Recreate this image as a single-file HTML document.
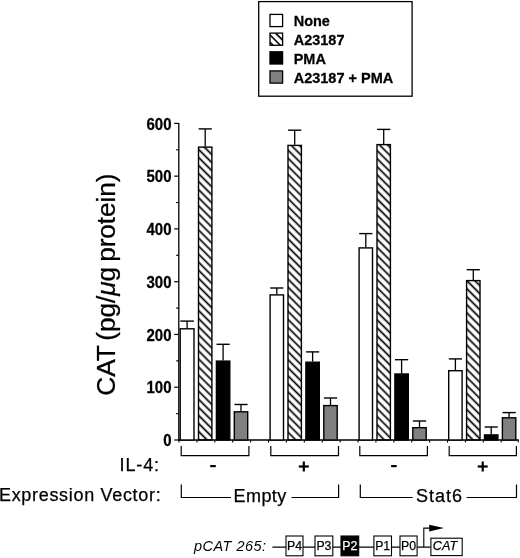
<!DOCTYPE html><html><head><meta charset="utf-8"><style>
html,body{margin:0;padding:0;background:#fff;}
body{width:520px;height:558px;overflow:hidden;}
svg{display:block;font-family:"Liberation Sans",sans-serif;will-change:transform;} text{stroke:#000;stroke-width:0.25px;}
</style></head><body>
<svg width="520" height="558" viewBox="0 0 520 558">
<defs><pattern id="hatch" patternUnits="userSpaceOnUse" width="5.699" height="5.699" patternTransform="rotate(45)"><rect x="0" y="4.277" width="5.699" height="1.7" fill="#000"/><rect x="0" y="-1.422" width="5.699" height="1.7" fill="#000"/></pattern><pattern id="hatchL" patternUnits="userSpaceOnUse" width="5.2" height="5.2" patternTransform="translate(272.3,14) rotate(45)"><rect x="0" y="0" width="5.2" height="1.6" fill="#000"/></pattern></defs>
<rect width="520" height="558" fill="#fff"/>
<rect x="258.7" y="1.6" width="153.4" height="94.6" fill="none" stroke="#000" stroke-width="1.3"/>
<rect x="270.0" y="14.40" width="12.6" height="12.2" fill="#fff" stroke="#000" stroke-width="1.3"/>
<text transform="translate(293.7,25.9) scale(1,1.05)" font-size="14.5" font-weight="bold">None</text>
<rect x="270.0" y="33.10" width="12.6" height="12.2" fill="url(#hatchL)" stroke="#000" stroke-width="1.3"/>
<text transform="translate(293.7,44.6) scale(1,1.05)" font-size="14.5" font-weight="bold">A23187</text>
<rect x="270.0" y="51.80" width="12.6" height="12.2" fill="#000" stroke="#000" stroke-width="1.3"/>
<text transform="translate(293.7,64.1) scale(1,1.05)" font-size="14.5" font-weight="bold">PMA</text>
<rect x="270.0" y="70.90" width="12.6" height="12.2" fill="#808080" stroke="#000" stroke-width="1.3"/>
<text transform="translate(293.7,82.8) scale(1,1.05)" font-size="14.5" font-weight="bold">A23187 + PMA</text>
<line x1="178.8" y1="122.88" x2="178.8" y2="440.60" stroke="#000" stroke-width="1.3"/>
<line x1="174.20" y1="440.00" x2="178.8" y2="440.00" stroke="#000" stroke-width="1.2"/>
<text transform="translate(171.5,446.20) scale(1,1.05)" font-size="15" font-weight="bold" text-anchor="end">0</text>
<line x1="176.20" y1="413.62" x2="178.8" y2="413.62" stroke="#000" stroke-width="1.2"/>
<line x1="174.20" y1="387.23" x2="178.8" y2="387.23" stroke="#000" stroke-width="1.2"/>
<text transform="translate(171.5,393.43) scale(1,1.05)" font-size="15" font-weight="bold" text-anchor="end">100</text>
<line x1="176.20" y1="360.85" x2="178.8" y2="360.85" stroke="#000" stroke-width="1.2"/>
<line x1="174.20" y1="334.46" x2="178.8" y2="334.46" stroke="#000" stroke-width="1.2"/>
<text transform="translate(171.5,340.66) scale(1,1.05)" font-size="15" font-weight="bold" text-anchor="end">200</text>
<line x1="176.20" y1="308.08" x2="178.8" y2="308.08" stroke="#000" stroke-width="1.2"/>
<line x1="174.20" y1="281.69" x2="178.8" y2="281.69" stroke="#000" stroke-width="1.2"/>
<text transform="translate(171.5,287.89) scale(1,1.05)" font-size="15" font-weight="bold" text-anchor="end">300</text>
<line x1="176.20" y1="255.31" x2="178.8" y2="255.31" stroke="#000" stroke-width="1.2"/>
<line x1="174.20" y1="228.92" x2="178.8" y2="228.92" stroke="#000" stroke-width="1.2"/>
<text transform="translate(171.5,235.12) scale(1,1.05)" font-size="15" font-weight="bold" text-anchor="end">400</text>
<line x1="176.20" y1="202.54" x2="178.8" y2="202.54" stroke="#000" stroke-width="1.2"/>
<line x1="174.20" y1="176.15" x2="178.8" y2="176.15" stroke="#000" stroke-width="1.2"/>
<text transform="translate(171.5,182.35) scale(1,1.05)" font-size="15" font-weight="bold" text-anchor="end">500</text>
<line x1="176.20" y1="149.77" x2="178.8" y2="149.77" stroke="#000" stroke-width="1.2"/>
<line x1="174.20" y1="123.38" x2="178.8" y2="123.38" stroke="#000" stroke-width="1.2"/>
<text transform="translate(171.5,129.58) scale(1,1.05)" font-size="15" font-weight="bold" text-anchor="end">600</text>
<line x1="178.2" y1="440.00" x2="518.8" y2="440.00" stroke="#000" stroke-width="1.3"/>
<line x1="179.00" y1="440.00" x2="179.00" y2="442.60" stroke="#000" stroke-width="1.1"/>
<line x1="196.90" y1="440.00" x2="196.90" y2="442.60" stroke="#000" stroke-width="1.1"/>
<line x1="214.80" y1="440.00" x2="214.80" y2="442.60" stroke="#000" stroke-width="1.1"/>
<line x1="232.70" y1="440.00" x2="232.70" y2="442.60" stroke="#000" stroke-width="1.1"/>
<line x1="250.60" y1="440.00" x2="250.60" y2="442.60" stroke="#000" stroke-width="1.1"/>
<line x1="268.50" y1="440.00" x2="268.50" y2="442.60" stroke="#000" stroke-width="1.1"/>
<line x1="286.40" y1="440.00" x2="286.40" y2="442.60" stroke="#000" stroke-width="1.1"/>
<line x1="304.30" y1="440.00" x2="304.30" y2="442.60" stroke="#000" stroke-width="1.1"/>
<line x1="322.20" y1="440.00" x2="322.20" y2="442.60" stroke="#000" stroke-width="1.1"/>
<line x1="340.10" y1="440.00" x2="340.10" y2="442.60" stroke="#000" stroke-width="1.1"/>
<line x1="358.00" y1="440.00" x2="358.00" y2="442.60" stroke="#000" stroke-width="1.1"/>
<line x1="375.90" y1="440.00" x2="375.90" y2="442.60" stroke="#000" stroke-width="1.1"/>
<line x1="393.80" y1="440.00" x2="393.80" y2="442.60" stroke="#000" stroke-width="1.1"/>
<line x1="411.70" y1="440.00" x2="411.70" y2="442.60" stroke="#000" stroke-width="1.1"/>
<line x1="429.60" y1="440.00" x2="429.60" y2="442.60" stroke="#000" stroke-width="1.1"/>
<line x1="447.50" y1="440.00" x2="447.50" y2="442.60" stroke="#000" stroke-width="1.1"/>
<line x1="465.40" y1="440.00" x2="465.40" y2="442.60" stroke="#000" stroke-width="1.1"/>
<line x1="483.30" y1="440.00" x2="483.30" y2="442.60" stroke="#000" stroke-width="1.1"/>
<line x1="501.20" y1="440.00" x2="501.20" y2="442.60" stroke="#000" stroke-width="1.1"/>
<line x1="518.20" y1="440.00" x2="518.20" y2="442.60" stroke="#000" stroke-width="1.1"/>
<line x1="187.10" y1="321.10" x2="187.10" y2="328.20" stroke="#000" stroke-width="1.3"/>
<line x1="180.30" y1="321.10" x2="193.90" y2="321.10" stroke="#000" stroke-width="1.4"/>
<rect x="180.20" y="328.80" width="13.80" height="111.20" fill="#fff" stroke="#000" stroke-width="1.4"/>
<line x1="205.20" y1="128.90" x2="205.20" y2="146.50" stroke="#000" stroke-width="1.3"/>
<line x1="198.60" y1="128.90" x2="211.80" y2="128.90" stroke="#000" stroke-width="1.4"/>
<rect x="198.50" y="147.10" width="13.40" height="292.90" fill="url(#hatch)" stroke="#000" stroke-width="1.4"/>
<line x1="223.10" y1="344.30" x2="223.10" y2="360.50" stroke="#000" stroke-width="1.3"/>
<line x1="216.50" y1="344.30" x2="229.70" y2="344.30" stroke="#000" stroke-width="1.4"/>
<rect x="216.40" y="361.10" width="13.40" height="78.90" fill="#000" stroke="#000" stroke-width="1.4"/>
<line x1="241.00" y1="404.50" x2="241.00" y2="411.20" stroke="#000" stroke-width="1.3"/>
<line x1="234.40" y1="404.50" x2="247.60" y2="404.50" stroke="#000" stroke-width="1.4"/>
<rect x="234.30" y="411.80" width="13.40" height="28.20" fill="#808080" stroke="#000" stroke-width="1.4"/>
<line x1="276.80" y1="288.00" x2="276.80" y2="294.30" stroke="#000" stroke-width="1.3"/>
<line x1="270.20" y1="288.00" x2="283.40" y2="288.00" stroke="#000" stroke-width="1.4"/>
<rect x="270.10" y="294.90" width="13.40" height="145.10" fill="#fff" stroke="#000" stroke-width="1.4"/>
<line x1="294.70" y1="130.20" x2="294.70" y2="144.80" stroke="#000" stroke-width="1.3"/>
<line x1="288.10" y1="130.20" x2="301.30" y2="130.20" stroke="#000" stroke-width="1.4"/>
<rect x="288.00" y="145.40" width="13.40" height="294.60" fill="url(#hatch)" stroke="#000" stroke-width="1.4"/>
<line x1="312.60" y1="351.90" x2="312.60" y2="361.60" stroke="#000" stroke-width="1.3"/>
<line x1="306.00" y1="351.90" x2="319.20" y2="351.90" stroke="#000" stroke-width="1.4"/>
<rect x="305.90" y="362.20" width="13.40" height="77.80" fill="#000" stroke="#000" stroke-width="1.4"/>
<line x1="330.50" y1="398.00" x2="330.50" y2="405.00" stroke="#000" stroke-width="1.3"/>
<line x1="323.90" y1="398.00" x2="337.10" y2="398.00" stroke="#000" stroke-width="1.4"/>
<rect x="323.80" y="405.60" width="13.40" height="34.40" fill="#808080" stroke="#000" stroke-width="1.4"/>
<line x1="365.80" y1="233.60" x2="365.80" y2="247.30" stroke="#000" stroke-width="1.3"/>
<line x1="359.20" y1="233.60" x2="372.40" y2="233.60" stroke="#000" stroke-width="1.4"/>
<rect x="359.10" y="247.90" width="13.40" height="192.10" fill="#fff" stroke="#000" stroke-width="1.4"/>
<line x1="383.70" y1="129.40" x2="383.70" y2="144.00" stroke="#000" stroke-width="1.3"/>
<line x1="377.10" y1="129.40" x2="390.30" y2="129.40" stroke="#000" stroke-width="1.4"/>
<rect x="377.00" y="144.60" width="13.40" height="295.40" fill="url(#hatch)" stroke="#000" stroke-width="1.4"/>
<line x1="401.60" y1="359.70" x2="401.60" y2="373.40" stroke="#000" stroke-width="1.3"/>
<line x1="395.00" y1="359.70" x2="408.20" y2="359.70" stroke="#000" stroke-width="1.4"/>
<rect x="394.90" y="374.00" width="13.40" height="66.00" fill="#000" stroke="#000" stroke-width="1.4"/>
<line x1="419.50" y1="421.00" x2="419.50" y2="427.10" stroke="#000" stroke-width="1.3"/>
<line x1="412.90" y1="421.00" x2="426.10" y2="421.00" stroke="#000" stroke-width="1.4"/>
<rect x="412.80" y="427.70" width="13.40" height="12.30" fill="#808080" stroke="#000" stroke-width="1.4"/>
<line x1="455.40" y1="358.90" x2="455.40" y2="370.10" stroke="#000" stroke-width="1.3"/>
<line x1="448.80" y1="358.90" x2="462.00" y2="358.90" stroke="#000" stroke-width="1.4"/>
<rect x="448.70" y="370.70" width="13.40" height="69.30" fill="#fff" stroke="#000" stroke-width="1.4"/>
<line x1="473.30" y1="269.70" x2="473.30" y2="280.00" stroke="#000" stroke-width="1.3"/>
<line x1="466.70" y1="269.70" x2="479.90" y2="269.70" stroke="#000" stroke-width="1.4"/>
<rect x="466.60" y="280.60" width="13.40" height="159.40" fill="url(#hatch)" stroke="#000" stroke-width="1.4"/>
<line x1="491.20" y1="427.00" x2="491.20" y2="434.30" stroke="#000" stroke-width="1.3"/>
<line x1="484.60" y1="427.00" x2="497.80" y2="427.00" stroke="#000" stroke-width="1.4"/>
<rect x="484.50" y="434.90" width="13.40" height="5.10" fill="#000" stroke="#000" stroke-width="1.4"/>
<line x1="509.10" y1="412.60" x2="509.10" y2="417.20" stroke="#000" stroke-width="1.3"/>
<line x1="502.50" y1="412.60" x2="515.70" y2="412.60" stroke="#000" stroke-width="1.4"/>
<rect x="502.40" y="417.80" width="13.40" height="22.20" fill="#808080" stroke="#000" stroke-width="1.4"/>
<polyline points="181.20,445.9 181.20,455.6 248.90,455.6 248.90,445.9" fill="none" stroke="#000" stroke-width="1.2"/>
<rect x="210.20" y="465.0" width="5.6" height="2.2" fill="#000"/>
<polyline points="270.80,445.9 270.80,455.6 338.50,455.6 338.50,445.9" fill="none" stroke="#000" stroke-width="1.2"/>
<rect x="298.80" y="465.4" width="10" height="2.2" fill="#000"/>
<rect x="302.70" y="461.5" width="2.2" height="10" fill="#000"/>
<polyline points="359.80,445.9 359.80,455.6 427.40,455.6 427.40,445.9" fill="none" stroke="#000" stroke-width="1.2"/>
<rect x="391.10" y="465.0" width="5.6" height="2.2" fill="#000"/>
<polyline points="449.20,445.9 449.20,455.6 516.40,455.6 516.40,445.9" fill="none" stroke="#000" stroke-width="1.2"/>
<rect x="477.70" y="465.4" width="10" height="2.2" fill="#000"/>
<rect x="481.60" y="461.5" width="2.2" height="10" fill="#000"/>
<text x="119.5" y="471.2" font-size="18" letter-spacing="0.9">IL-4:</text>
<text x="-1.0" y="501.3" font-size="18" letter-spacing="0.68">Expression Vector:</text>
<text transform="translate(115.4,395.7) rotate(-90) scale(1.05,1)" font-size="25" letter-spacing="-0.07" word-spacing="-2">CAT (pg/<tspan font-style="italic">μ</tspan>g protein)</text>
<polyline points="181.30,484.4 181.30,497.5 231.00,497.5" fill="none" stroke="#000" stroke-width="1.2"/>
<polyline points="291.50,497.5 338.60,497.5 338.60,484.4" fill="none" stroke="#000" stroke-width="1.2"/>
<text x="233.50" y="502.2" font-size="18" letter-spacing="0.45">Empty</text>
<polyline points="360.30,484.4 360.30,497.5 412.70,497.5" fill="none" stroke="#000" stroke-width="1.2"/>
<polyline points="466.70,497.5 516.50,497.5 516.50,484.4" fill="none" stroke="#000" stroke-width="1.2"/>
<text x="416.10" y="502.2" font-size="18" letter-spacing="0.95">Stat6</text>
<text x="193.9" y="550.8" font-size="14.5" font-style="italic" letter-spacing="0.5" style="stroke:none">pCAT 265:</text>
<line x1="272.4" y1="547.1" x2="430.5" y2="547.1" stroke="#000" stroke-width="1.1"/>
<rect x="286.00" y="536.0" width="17.00" height="19.8" fill="#fff" stroke="#000" stroke-width="1.1"/>
<text x="294.50" y="550.0" font-size="12.3" text-anchor="middle" fill="#000" style="stroke:#000">P4</text>
<rect x="315.00" y="536.0" width="17.80" height="19.8" fill="#fff" stroke="#000" stroke-width="1.1"/>
<text x="323.90" y="550.0" font-size="12.3" text-anchor="middle" fill="#000" style="stroke:#000">P3</text>
<rect x="341.00" y="536.0" width="17.70" height="19.8" fill="#000" stroke="#000" stroke-width="1.1"/>
<text x="349.85" y="550.0" font-size="12.3" text-anchor="middle" fill="#fff" style="stroke:#fff">P2</text>
<rect x="373.90" y="536.0" width="17.60" height="19.8" fill="#fff" stroke="#000" stroke-width="1.1"/>
<text x="382.70" y="550.0" font-size="12.3" text-anchor="middle" fill="#000" style="stroke:#000">P1</text>
<rect x="400.00" y="536.0" width="17.10" height="19.8" fill="#fff" stroke="#000" stroke-width="1.1"/>
<text x="408.55" y="550.0" font-size="12.3" text-anchor="middle" fill="#000" style="stroke:#000">P0</text>
<rect x="430.9" y="538.2" width="31.3" height="17.4" fill="#fff" stroke="#000" stroke-width="1.1"/>
<text x="445.0" y="549.9" font-size="12.6" font-style="italic" text-anchor="middle">CAT</text>
<polyline points="423.8,547.1 423.8,528.1 429.5,528.1" fill="none" stroke="#000" stroke-width="1.1"/>
<polygon points="429.2,524.7 429.2,531.5 444.0,528.1" fill="#000"/>
</svg></body></html>
